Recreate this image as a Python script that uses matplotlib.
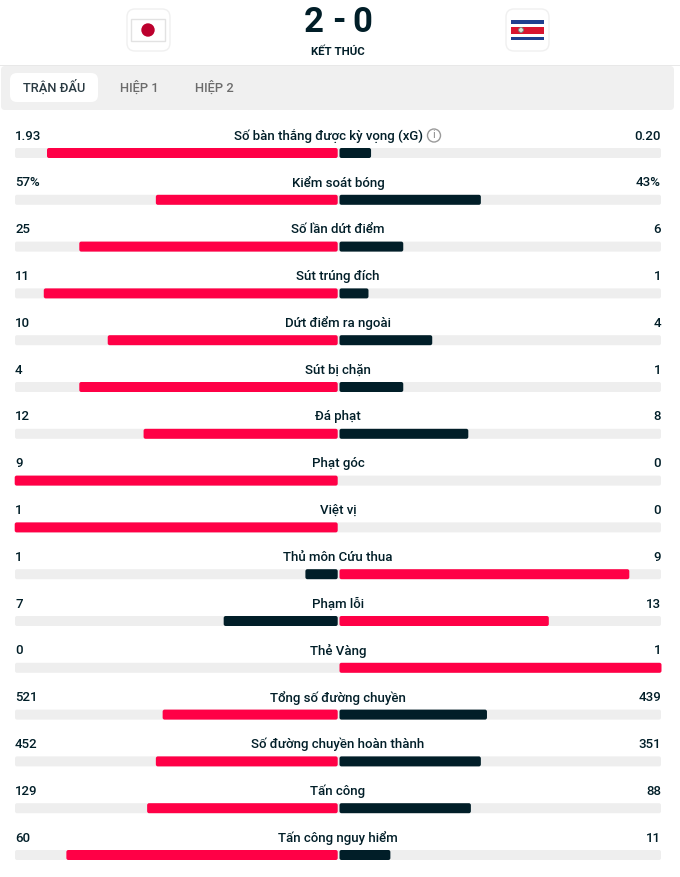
import matplotlib
matplotlib.use('Agg')
import matplotlib.pyplot as plt
from matplotlib.patches import FancyBboxPatch, Circle, Rectangle

labels = ['Số bàn thắng được kỳ vọng (xG)', 'Kiểm soát bóng', 'Số lần dứt điểm', 'Sút trúng đích',
          'Dứt điểm ra ngoài', 'Sút bị chặn', 'Đá phạt', 'Phạt góc', 'Việt vị', 'Thủ môn Cứu thua',
          'Phạm lỗi', 'Thẻ Vàng', 'Tổng số đường chuyền', 'Số đường chuyền hoàn thành', 'Tấn công',
          'Tấn công nguy hiểm']
home_text = ['1.93', '57%', '25', '11', '10', '4', '12', '9', '1', '1', '7', '0', '521', '452', '129', '60']
away_text = ['0.20', '43%', '6', '1', '4', '1', '8', '0', '0', '9', '13', '1', '439', '351', '88', '11']

# bar lengths as share of one side
home_share = [0.90, 0.563, 0.80, 0.91, 0.712, 0.80, 0.601, 1.0, 1.0, 0.10, 0.353, 0.0, 0.542, 0.563, 0.59, 0.84]
away_share = [0.098, 0.439, 0.198, 0.09, 0.288, 0.198, 0.40, 0.0, 0.0, 0.90, 0.65, 1.0, 0.458, 0.439, 0.408, 0.158]
home_lead = [True, True, True, True, True, True, True, True, True, False, False, False, True, True, True, True]

RED = '#ff0046'
DARK = '#011e28'
TRACK = '#eeeeee'
FONT = 'Roboto'

fig = plt.figure(figsize=(6.8, 8.77), dpi=100)
ax = fig.add_axes([0, 0, 1, 1])
ax.set_xlim(0, 680)
ax.set_ylim(877, 0)
ax.axis('off')


def rbox(x0, y0, x1, y1, color, r=2, ec='none', z=2):
    ax.add_patch(FancyBboxPatch((x0, y0), x1 - x0, y1 - y0, boxstyle='round,pad=0,rounding_size=%s' % r,
                                fc=color, ec=ec, lw=1, zorder=z))


# header
rbox(127, 9, 170, 51, 'white', r=8, ec='#f0f0f0')
rbox(506, 9, 549, 51, 'white', r=8, ec='#f0f0f0')
ax.add_patch(Rectangle((131, 19), 34, 22, fc='white', ec='#e2e2e2', lw=1, zorder=3))
ax.add_patch(Circle((148, 30), 6.7, fc='#bc002d', ec='none', zorder=4))
ax.add_patch(Rectangle((511, 20), 33, 3.8, fc='#1f3f8f', ec='none', zorder=3))
ax.add_patch(Rectangle((511, 27), 33, 6.5, fc='#d8152f', ec='none', zorder=3))
ax.add_patch(Rectangle((511, 36.5), 33, 3.8, fc='#1f3f8f', ec='none', zorder=3))
ax.add_patch(Circle((521, 30), 2.4, fc='#d9e4d6', ec='#6f8f80', lw=0.6, zorder=4))

ax.text(324, 22, '2', fontsize=25, fontweight='bold', family=FONT, color=DARK, ha='right', va='center')
ax.text(338.5, 22, '-', fontsize=25, fontweight='bold', family=FONT, color=DARK, ha='center', va='center')
ax.text(352, 22, '0', fontsize=25, fontweight='bold', family=FONT, color=DARK, ha='left', va='center')
ax.text(338, 51.5, 'KẾT THÚC', fontsize=8.2, fontweight='bold', family=FONT, color=DARK, ha='center', va='center')

# tab band
ax.add_patch(Rectangle((0, 65), 680, 0.8, fc='#e8e8e8', ec='none', zorder=1))
rbox(1, 66, 674, 110, '#f0f0f0', r=4, z=1)
rbox(10, 73, 98, 102, 'white', r=7)
ax.text(54, 87.5, 'TRẬN ĐẤU', fontsize=9.3, fontweight='medium', family=FONT, color='#2a3a42', ha='center', va='center')
ax.text(139.5, 87.5, 'HIỆP 1', fontsize=9.3, fontweight='medium', family=FONT, color='#6b6b6b', ha='center', va='center')
ax.text(214, 87.5, 'HIỆP 2', fontsize=9.3, fontweight='medium', family=FONT, color='#6b6b6b', ha='center', va='center')

# stat rows
for i, lab in enumerate(labels):
    yb = 153 + i * 46.8
    yt = yb - 17
    rbox(15, yb - 5, 661, yb + 5, TRACK, r=2, z=1)
    lw = home_share[i] * 323
    rw = away_share[i] * 322
    if lw > 0:
        rbox(337.7 - lw, yb - 5, 337.7, yb + 5, RED if home_lead[i] else DARK)
    if rw > 0:
        rbox(339.5, yb - 5, 339.5 + rw, yb + 5, DARK if home_lead[i] else RED)
    ax.text(15, yt, home_text[i], fontsize=9.5, fontweight='medium', family=FONT, color=DARK, ha='left', va='center')
    ax.text(661, yt, away_text[i], fontsize=9.5, fontweight='medium', family=FONT, color=DARK, ha='right', va='center')
    ax.text(329 if i == 0 else 338, yt, lab, fontsize=9.5, fontweight='medium', family=FONT, color=DARK, ha='center', va='center')

# info icon next to xG
ax.add_patch(Circle((434, 135.5), 6.5, fc='white', ec='#9a9a9a', lw=1, zorder=3))
ax.text(434, 135.5, 'i', fontsize=8, family=FONT, color='#8a8a8a', ha='center', va='center', zorder=4)

fig.savefig('out.png', dpi=100, facecolor='white')
